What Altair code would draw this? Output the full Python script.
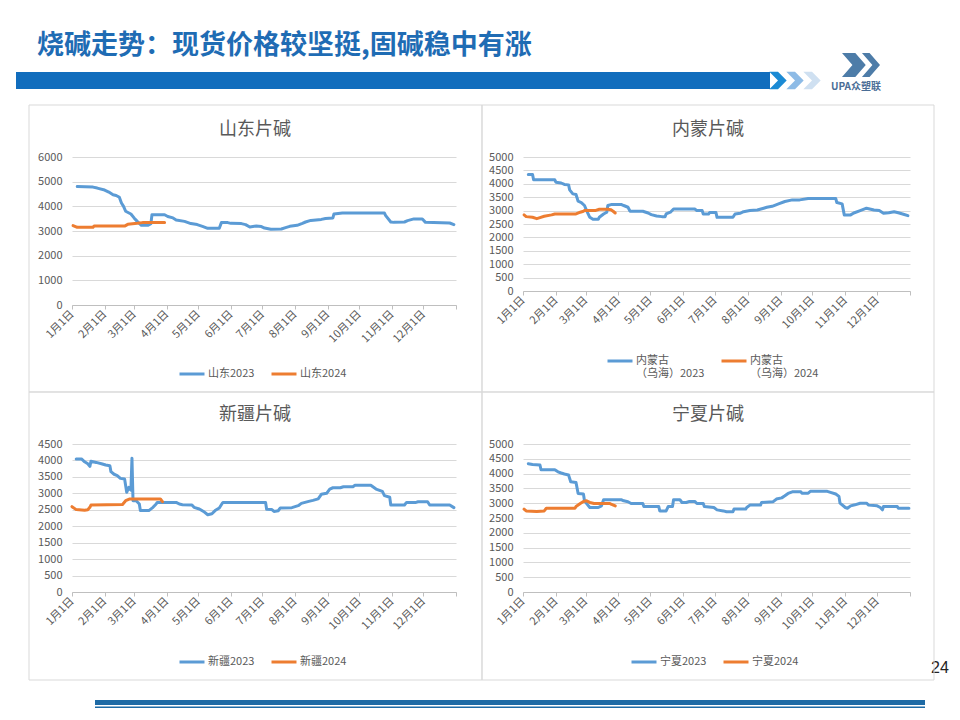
import altair as alt
import pandas as pd

FONT = "Noto Sans CJK SC"
BLUE = "#5b9bd5"
ORANGE = "#ed7d31"
GRAY_TXT = "#595959"
GRID = "#d9d9d9"
AXIS_LINE = "#bfbfbf"
BOX_LINE = "#d9d9d9"

SLIDE_TITLE = "烧碱走势：现货价格较坚挺,固碱稳中有涨"
LOGO_TEXT = "UPA众塑联"
PAGE_NUM = "24"

MONTH_START_DAYS = [0, 31, 59, 90, 120, 151, 181, 212, 243, 273, 304, 334]
MONTH_LABELS = ["1月1日", "2月1日", "3月1日", "4月1日", "5月1日", "6月1日",
                "7月1日", "8月1日", "9月1日", "10月1日", "11月1日", "12月1日"]
YEAR_END_DAY = 365

PANEL_TITLES = ["山东片碱", "内蒙片碱", "新疆片碱", "宁夏片碱"]
SD_NAMES = ["山东2023", "山东2024"]
NM_NAMES = ["内蒙古（乌海）2023", "内蒙古（乌海）2024"]
XJ_NAMES = ["新疆2023", "新疆2024"]
NX_NAMES = ["宁夏2023", "宁夏2024"]

# ---- 山东 ----
SD23_DAYS = [5, 20, 24, 31, 35, 39, 42, 45, 47, 49, 51, 56, 59, 62, 66, 72, 75, 76, 88, 91, 96, 99,
             107, 113, 119, 124, 129, 140, 142, 148, 151, 161, 165, 169, 175, 180, 183, 189, 199,
             203, 207, 214, 219, 222, 227, 237, 241, 248, 249, 257, 297, 298, 303, 306, 316, 319,
             325, 333, 336, 359, 363]
SD23_VALUES = [4800, 4780, 4740, 4660, 4580, 4470, 4440, 4365, 4135, 4000, 3800, 3690, 3530, 3390,
               3230, 3230, 3300, 3660, 3660, 3590, 3530, 3450, 3390, 3300, 3260, 3190, 3110, 3110,
               3340, 3340, 3310, 3300, 3260, 3160, 3200, 3180, 3120, 3070, 3080, 3135, 3190, 3230,
               3310, 3365, 3430, 3470, 3510, 3530, 3690, 3730, 3730, 3635, 3365, 3350, 3365, 3420,
               3490, 3490, 3350, 3325, 3260]
SD24_DAYS = [1, 5, 20, 21, 50, 53, 62, 67, 88]
SD24_VALUES = [3220, 3150, 3150, 3200, 3200, 3270, 3310, 3340, 3340]

# ---- 内蒙古（乌海） ----
NM23_DAYS = [5, 9, 10, 30, 31, 36, 39, 43, 44, 47, 50, 52, 55, 58, 60, 63, 66, 71, 72, 76, 79, 80,
             83, 93, 95, 99, 101, 113, 118, 121, 126, 131, 134, 135, 139, 142, 162, 164, 169, 170,
             175, 176, 182, 183, 198, 200, 205, 208, 214, 221, 227, 230, 235, 241, 247, 254, 261,
             269, 295, 296, 301, 303, 309, 312, 318, 324, 331, 336, 340, 345, 350, 354, 358, 363]
NM23_VALUES = [4350, 4350, 4150, 4150, 4060, 4030, 3975, 3960, 3775, 3625, 3600, 3350, 3300, 3190,
               3000, 2750, 2675, 2675, 2750, 2875, 2940, 3190, 3225, 3225, 3190, 3125, 2975, 2975,
               2910, 2850, 2800, 2775, 2775, 2875, 2940, 3060, 3060, 3000, 3000, 2875, 2875, 2925,
               2925, 2750, 2750, 2875, 2900, 2960, 3000, 3025, 3090, 3125, 3160, 3250, 3340, 3400,
               3400, 3450, 3450, 3300, 3250, 2840, 2840, 2910, 3000, 3090, 3025, 3000, 2900, 2920,
               2960, 2920, 2875, 2810]
NM24_DAYS = [1, 3, 9, 13, 16, 20, 27, 30, 50, 54, 57, 58, 68, 72, 80, 83, 85, 87]
NM24_VALUES = [2840, 2775, 2750, 2700, 2740, 2790, 2840, 2875, 2875, 2940, 2975, 3000, 3000, 3050,
               3050, 3030, 2975, 2910]

# ---- 新疆 ----
XJ23_DAYS = [4, 9, 12, 15, 17, 18, 23, 28, 32, 36, 37, 40, 43, 46, 50, 52, 54, 56, 57, 58, 61, 64,
             65, 73, 77, 80, 81, 99, 102, 105, 114, 116, 121, 125, 129, 133, 136, 140, 143, 144,
             184, 185, 190, 192, 196, 198, 209, 215, 218, 225, 229, 234, 237, 242, 245, 248, 255,
             258, 267, 269, 284, 289, 295, 297, 302, 303, 316, 318, 327, 329, 338, 340, 359, 363]
XJ23_VALUES = [4045, 4045, 3960, 3900, 3820, 3975, 3940, 3900, 3860, 3840, 3660, 3580, 3540, 3455,
               3435, 3030, 3180, 3100, 4065, 2775, 2775, 2675, 2475, 2475, 2575, 2675, 2725, 2725,
               2675, 2655, 2645, 2575, 2525, 2450, 2350, 2380, 2475, 2555, 2705, 2725, 2725, 2515,
               2505, 2450, 2470, 2555, 2565, 2625, 2695, 2755, 2785, 2830, 2970, 3000, 3130, 3170,
               3170, 3200, 3200, 3245, 3245, 3130, 3060, 2930, 2880, 2645, 2645, 2725, 2725, 2745,
               2745, 2645, 2645, 2565]
XJ24_DAYS = [0, 4, 12, 15, 17, 18, 48, 51, 55, 84, 86]
XJ24_VALUES = [2595, 2505, 2485, 2500, 2575, 2645, 2660, 2775, 2830, 2830, 2745]

# ---- 宁夏 ----
NX23_DAYS = [5, 9, 16, 17, 30, 33, 36, 39, 43, 45, 50, 52, 57, 58, 63, 71, 74, 76, 93, 95, 99, 102,
             113, 114, 128, 129, 135, 137, 141, 142, 148, 150, 154, 157, 162, 164, 170, 171, 180,
             183, 189, 192, 198, 199, 210, 211, 214, 224, 225, 236, 239, 244, 247, 250, 254, 262,
             263, 269, 271, 287, 290, 295, 298, 299, 304, 306, 309, 313, 318, 324, 326, 334, 337,
             339, 340, 353, 354, 364]
NX23_VALUES = [4335, 4310, 4290, 4130, 4130, 4060, 4020, 3985, 3950, 3725, 3700, 3330, 3310, 3080,
               2855, 2855, 2910, 3115, 3115, 3080, 3050, 2990, 2990, 2890, 2890, 2740, 2740, 2890,
               2890, 3115, 3115, 3025, 3025, 3060, 3060, 2990, 2990, 2890, 2855, 2775, 2740, 2710,
               2710, 2800, 2800, 2855, 2935, 2935, 3025, 3050, 3140, 3180, 3250, 3330, 3385, 3385,
               3340, 3340, 3400, 3400, 3365, 3310, 3230, 3000, 2855, 2830, 2910, 2945, 3000, 3000,
               2935, 2910, 2855, 2775, 2890, 2890, 2830, 2830]
NX24_DAYS = [1, 3, 13, 20, 22, 49, 50, 54, 57, 60, 63, 67, 82, 83, 87]
NX24_VALUES = [2800, 2740, 2720, 2740, 2830, 2830, 2890, 2990, 3060, 3080, 3025, 2990, 2990, 2970,
               2910]

ONE = pd.DataFrame({"k": [0]})
TICK_DAYS = MONTH_START_DAYS + [YEAR_END_DAY]
LABEL_EXPR = ("[" + ",".join("'%s'" % s for s in MONTH_LABELS + [""]) + "][indexof(["
              + ",".join(str(v) for v in TICK_DAYS) + "], datum.value)]")


def vrect(x1, y1, x2, y2, **kw):
    return alt.Chart(ONE).mark_rect(**kw).encode(
        x=alt.value(x1), x2=alt.value(x2), y=alt.value(y1), y2=alt.value(y2))


def vtext(text, x, y, **kw):
    return alt.Chart(ONE).mark_text(text=text, **kw).encode(x=alt.value(x), y=alt.value(y))


def vshape(path, x, y, size, color):
    return alt.Chart(ONE).mark_point(shape=path, filled=True, size=size, fill=color, opacity=1,
                                     strokeWidth=0).encode(x=alt.value(x), y=alt.value(y))


def make_panel(title, names, d23, v23, d24, v24, ymax, ystep, w, h, box, title_xy,
               legend_xy, multiline=False, extra=None):
    df = pd.DataFrame({
        "day": d23 + d24,
        "value": v23 + v24,
        "series": [names[0]] * len(d23) + [names[1]] * len(d24),
    })
    leg = dict(orient="none", legendX=legend_xy[0], legendY=legend_xy[1],
               direction="horizontal", title=None, symbolType="stroke", symbolSize=625,
               symbolStrokeWidth=3, labelFont=FONT, labelFontSize=11, labelColor=GRAY_TXT,
               labelOffset=2, columnPadding=10, padding=0)
    if multiline:
        leg["labelExpr"] = "[substring(datum.label,0,3), substring(datum.label,3)]"
    lines = alt.Chart(df).mark_line(strokeWidth=3, strokeJoin="round", strokeCap="round").encode(
        x=alt.X("day:Q", scale=alt.Scale(domain=[0, YEAR_END_DAY], nice=False, zero=False),
                axis=alt.Axis(values=TICK_DAYS, labelExpr=LABEL_EXPR, labelAngle=-45,
                              labelAlign="right", labelBaseline="middle", labelPadding=3,
                              labelFont=FONT, labelFontSize=11, labelColor=GRAY_TXT,
                              labelFlush=False, labelOverlap=False, grid=False,
                              domainColor=AXIS_LINE, tickColor=AXIS_LINE, tickSize=4,
                              title=None)),
        y=alt.Y("value:Q", scale=alt.Scale(domain=[0, ymax], nice=False),
                axis=alt.Axis(values=list(range(0, ymax + 1, ystep)), format="d", grid=True,
                              gridColor=GRID, domain=False, ticks=False, labelPadding=10,
                              labelFont=FONT, labelFontSize=11, labelColor=GRAY_TXT,
                              title=None)),
        color=alt.Color("series:N", scale=alt.Scale(domain=names, range=[BLUE, ORANGE]),
                        legend=alt.Legend(**leg)),
    )
    layers = list(extra or [])
    layers.append(vrect(box[0], box[1], box[2], box[3], fill="white", fillOpacity=0,
                        stroke=BOX_LINE, strokeWidth=1))
    layers.append(vtext(title, title_xy[0], title_xy[1], font=FONT, fontSize=18,
                        color=GRAY_TXT, align="center", baseline="middle"))
    layers.append(lines)
    return alt.layer(*layers).properties(width=w, height=h)


# ---- slide decorations (positions relative to the first panel's plot area) ----
CHEVRON = "M-1,-1 L0,-1 L1,0 L0,1 L-1,1 L0,0 Z"
LOGO_ICON = ("M-1,-0.63 L-0.3,-0.63 L0.25,0 L-0.3,0.63 L-1,0.63 L-0.45,0 Z "
             "M0.05,-0.63 L0.45,-0.63 L1,0 L0.45,0.63 L0.05,0.63 L0.6,0 Z")
decor = [
    vrect(-64, -149, 880, 553, fill="white", fillOpacity=0, strokeWidth=0),
    vtext(SLIDE_TITLE, -35, -111, font=FONT, fontSize=27, fontWeight="bold", color="#1f6cb4",
          align="left", baseline="middle"),
    vrect(-56, -85, 698, -68, fill="#116dbd", strokeWidth=0),
    vshape(CHEVRON, 706, -76.5, 300, "#1a8ad4"),
    vshape(CHEVRON, 723, -76.5, 300, "#8dbbe6"),
    vshape(CHEVRON, 740, -76.5, 300, "#cfe0f1"),
    vshape(LOGO_ICON, 789, -92, 1444, "#4d7ca8"),
    vtext(LOGO_TEXT, 784, -70, font=FONT, fontSize=10, fontWeight="bold", color="#4a6d96",
          align="center", baseline="middle"),
    vrect(23, 543, 853, 548, fill="#1d6aa5", strokeWidth=0),
    vrect(23, 549.5, 853, 551, fill="#1d6aa5", strokeWidth=0),
    vtext(PAGE_NUM, 859, 511, font="Liberation Sans", fontSize=16, color="#222222",
          align="left", baseline="middle"),
]

p1 = make_panel(PANEL_TITLES[0], SD_NAMES, SD23_DAYS, SD23_VALUES, SD24_DAYS, SD24_VALUES,
                6000, 1000, 384, 148, (-43, -52, 410, 235), (183, -27), (106, 203),
                extra=decor)
p2 = make_panel(PANEL_TITLES[1], NM_NAMES, NM23_DAYS, NM23_VALUES, NM24_DAYS, NM24_VALUES,
                5000, 500, 387, 134, (-41, -52, 411, 235), (185, -27), (83, 190),
                multiline=True)
p3 = make_panel(PANEL_TITLES[2], XJ_NAMES, XJ23_DAYS, XJ23_VALUES, XJ24_DAYS, XJ24_VALUES,
                4500, 500, 384, 148, (-43, -52, 410, 236), (183, -29), (106, 204))
p4 = make_panel(PANEL_TITLES[3], NX_NAMES, NX23_DAYS, NX23_VALUES, NX24_DAYS, NX24_VALUES,
                5000, 500, 387, 148, (-41, -52, 411, 236), (185, -29), (107, 204))

chart = alt.concat(p1, p2, p3, p4, columns=2, spacing={"row": 139, "column": 67},
                   bounds="flush").resolve_scale(
    x="independent", y="independent", color="independent"
).properties(padding=0).configure_view(strokeWidth=0)

chart.save("out.html", embed_options={"renderer": "svg", "actions": False})
